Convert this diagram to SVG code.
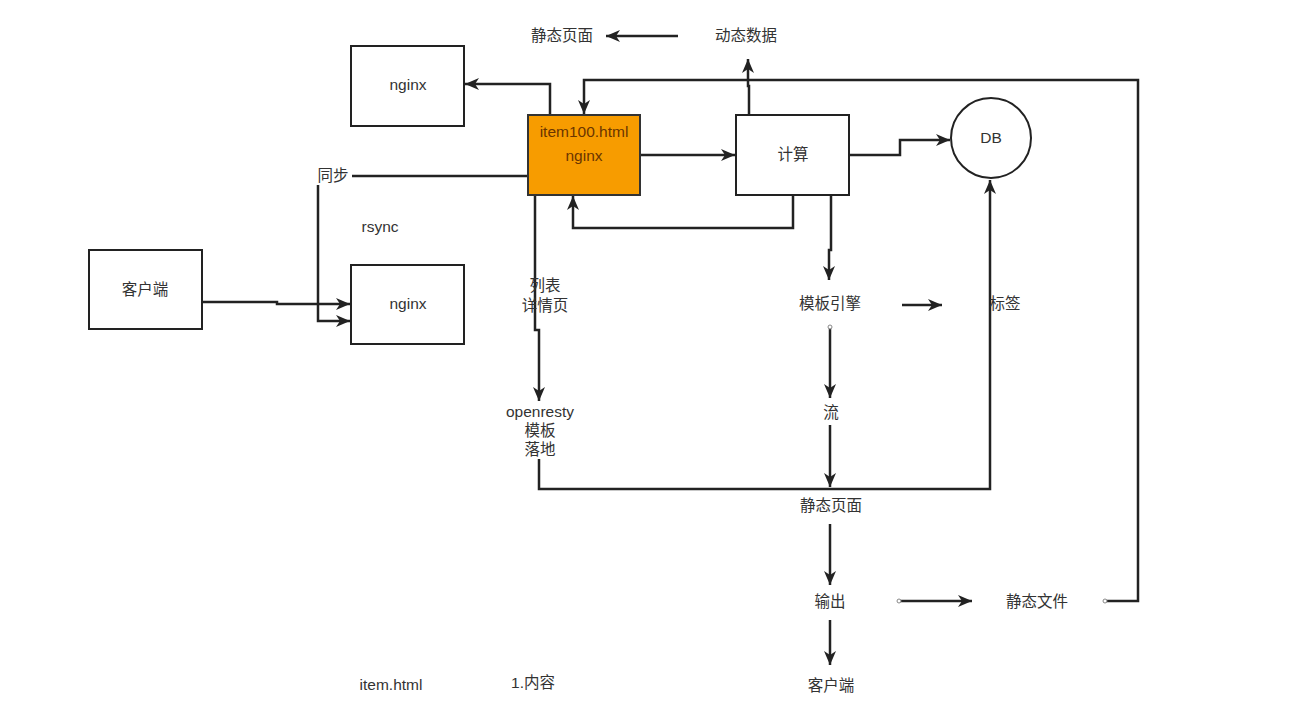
<svg xmlns="http://www.w3.org/2000/svg" width="1314" height="714" viewBox="0 0 1314 714">
<style>
.box{fill:#fff;stroke:#222;stroke-width:2}
.hot{fill:#F79C00;stroke:#333;stroke-width:2}
.t{font-family:"Liberation Sans","Noto Sans CJK SC",sans-serif;font-size:15.5px;fill:#333;text-anchor:middle;dominant-baseline:middle}
.ht{fill:#6a3500}
.c{fill:none;stroke:#222;stroke-width:2.5}
.a{marker-end:url(#ah)}
.dot{fill:#fff;stroke:#888;stroke-width:1}
</style>
<defs>
<marker id="ah" markerUnits="userSpaceOnUse" markerWidth="16" markerHeight="12" refX="14" refY="6" orient="auto">
<path d="M0,0 L14,6 L0,12 L4,6 Z" fill="#222"/>
</marker>
</defs>
<rect width="1314" height="714" fill="#fff"/>

<g id="connectors">
<path class="c a" d="M678,36 H606"/>
<path class="c a" d="M550,115 V84 H465"/>
<path class="c a" d="M1105,601 H1138 V80 H584 V114"/>
<path class="c a" d="M749,115 V86 H748 V59"/>
<path class="c a" d="M640,155 H735"/>
<path class="c a" d="M849,155 H900 V140 H950"/>
<path class="c a" d="M793,195 V228 H573 V196"/>
<path class="c a" d="M831,195 V250 H829 V280"/>
<path class="c" d="M528,176 H352"/>
<path class="c a" d="M318,185 V321 H350"/>
<path class="c a" d="M202,302 H277 V304 H350"/>
<path class="c a" d="M535,196 V330 H539 V401"/>
<path class="c a" d="M539,459 V489 H990 V180"/>
<path class="c a" d="M830,327 V398"/>
<path class="c a" d="M830,425 V487"/>
<path class="c a" d="M902,305 H942"/>
<path class="c a" d="M830,524 V585"/>
<path class="c a" d="M899,601 H972"/>
<path class="c a" d="M830,620 V665"/>
<circle class="dot" cx="830" cy="327" r="2"/>
<circle class="dot" cx="899" cy="601" r="2"/>
<circle class="dot" cx="1105" cy="601" r="2"/>
</g>

<g id="n-nginx-top"><rect class="box" x="351" y="46" width="113" height="80"/><text class="t" x="408" y="86">nginx</text></g>
<g id="n-item100"><rect class="hot" x="528" y="115" width="112" height="80"/><text class="t ht" x="584" y="133">item100.html</text><text class="t ht" x="584" y="157">nginx</text></g>
<g id="n-calc"><rect class="box" x="736" y="115" width="113" height="80"/><text class="t" x="793" y="156">计算</text></g>
<g id="n-db"><circle class="box" cx="991" cy="138" r="40"/><text class="t" x="991" y="139">DB</text></g>
<g id="n-client"><rect class="box" x="89" y="250" width="113" height="79"/><text class="t" x="145" y="291">客户端</text></g>
<g id="n-nginx-low"><rect class="box" x="351" y="265" width="113" height="79"/><text class="t" x="408" y="305">nginx</text></g>

<g id="labels">
<text class="t" x="562" y="37">静态页面</text>
<text class="t" x="746" y="37">动态数据</text>
<text class="t" x="333" y="177">同步</text>
<text class="t" x="380" y="228">rsync</text>
<text class="t" x="545" y="287">列表</text>
<text class="t" x="545" y="307">详情页</text>
<text class="t" x="830" y="305">模板引擎</text>
<text class="t" x="1005" y="305">标签</text>
<text class="t" x="540" y="413">openresty</text>
<text class="t" x="540" y="432">模板</text>
<text class="t" x="540" y="451">落地</text>
<text class="t" x="831" y="414">流</text>
<text class="t" x="831" y="507">静态页面</text>
<text class="t" x="830" y="603">输出</text>
<text class="t" x="1037" y="603">静态文件</text>
<text class="t" x="831" y="687">客户端</text>
<text class="t" x="391" y="686">item.html</text>
<text class="t" x="533" y="684">1.内容</text>
</g>
</svg>
